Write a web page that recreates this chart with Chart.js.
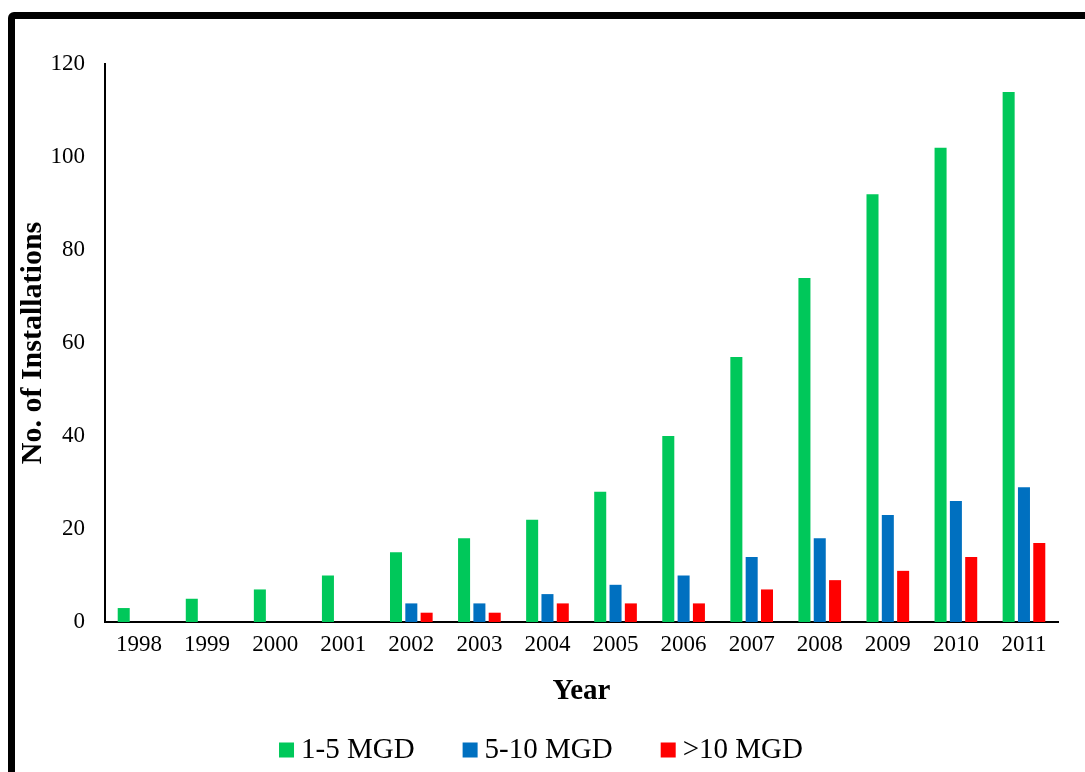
<!DOCTYPE html>
<html>
<head>
<meta charset="utf-8">
<script src="https://cdn.jsdelivr.net/npm/chart.js@4.4.1/dist/chart.umd.min.js"></script>
<style>
  html, body { margin: 0; padding: 0; background: #fff; overflow: hidden; }
  #wrap { position: relative; width: 1085px; height: 772px; }
  #frame { position: absolute; left: 8px; top: 12px; width: 1200px; height: 900px;
           border: 7.5px solid #000; border-radius: 6px; box-sizing: border-box; pointer-events: none; }
  canvas { position: absolute; left: 0; top: 0; }
</style>
</head>
<body>
<div id="wrap">
  <canvas id="c" width="1085" height="772"></canvas>
  <div id="frame"></div>
</div>
<script>
const years = ['1998','1999','2000','2001','2002','2003','2004','2005','2006','2007','2008','2009','2010','2011'];
const mgd1to5 = [3, 5, 7, 10, 15, 18, 22, 28, 40, 57, 74, 92, 102, 114];
const mgd5to10 = [0, 0, 0, 0, 4, 4, 6, 8, 10, 14, 18, 23, 26, 29];
const mgdOver10 = [0, 0, 0, 0, 2, 2, 4, 4, 4, 7, 9, 11, 14, 17];
const seriesNames = ['1-5 MGD', '5-10 MGD', '>10 MGD'];
const yTicks = { min: 0, max: 120, step: 20 };

const serif = '"Liberation Serif", "Times New Roman", serif';

new Chart(document.getElementById('c'), {
  type: 'bar',
  data: {
    labels: years,
    datasets: [
      { label: seriesNames[0], data: mgd1to5, backgroundColor: '#00C85A', borderWidth: 0 },
      { label: seriesNames[1], data: mgd5to10, backgroundColor: '#0070C0', borderWidth: 0 },
      { label: seriesNames[2], data: mgdOver10, backgroundColor: '#FF0000', borderWidth: 0 }
    ]
  },
  options: {
    responsive: false,
    animation: false,
    devicePixelRatio: 1,
    categoryPercentage: 0.675,
    barPercentage: 0.785,
    layout: { padding: { left: 4.5, right: 0, top: 64, bottom: 0 } },
    plugins: {
      tooltip: { enabled: false },
      legend: {
        position: 'bottom',
        maxHeight: 92,
        labels: {
          usePointStyle: true,
          pointStyle: 'rect',
          boxWidth: 0.01,
          boxHeight: 15,
          padding: 55.5,
          color: '#000',
          font: { family: serif, size: 29 }
        }
      }
    },
    scales: {
      x: {
        grid: { display: false, drawTicks: false },
        border: { display: true, color: '#000', width: 2 },
        ticks: { color: '#000', padding: 9, font: { family: serif, size: 23 }, maxRotation: 0 },
        title: { display: true, text: 'Year', color: '#000',
                 font: { family: serif, size: 29, weight: 'bold' },
                 padding: { top: 0, bottom: -29.4 } },
        afterFit: s => { s.height = 58; }
      },
      y: {
        min: yTicks.min, max: yTicks.max,
        grid: { display: false, drawTicks: false },
        border: { display: true, color: '#000', width: 2 },
        ticks: { stepSize: yTicks.step, color: '#000', padding: 20, font: { family: serif, size: 23 } },
        title: { display: true, text: 'No. of Installations', color: '#000',
                 font: { family: serif, size: 30, weight: 'bold' },
                 padding: { top: 11, bottom: 0 } },
        afterFit: s => { s.width = 100.5; }
      },
      yR: {
        position: 'right',
        display: true,
        grid: { display: false, drawTicks: false },
        border: { display: false },
        ticks: { display: false },
        afterFit: s => { s.width = 27; }
      }
    }
  }
});
</script>
</body>
</html>
